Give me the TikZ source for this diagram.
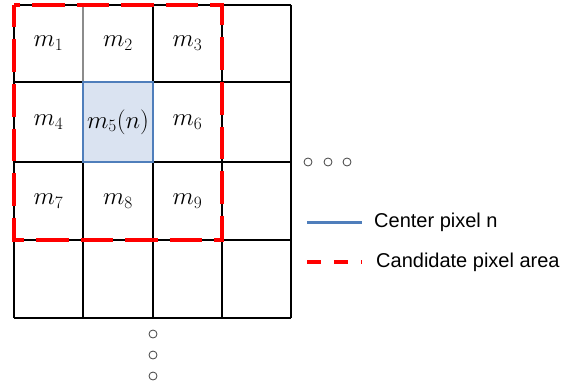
\documentclass[tikz,border=0pt]{standalone}
\usepackage{fontspec}
\newfontfamily\legendfont{Liberation Sans}
\definecolor{centerfill}{HTML}{DAE3F1}
\definecolor{centerline}{HTML}{4F7EBB}
\definecolor{areared}{HTML}{FF0000}
\begin{document}
\begin{tikzpicture}[x=1pt,y=-1pt,
  gridline/.style={draw=black,line width=1.8pt},
  cell/.style={minimum width=69pt,minimum height=78pt,inner sep=0pt,outer sep=0pt},
  centerborder/.style={draw=centerline,line width=2.4pt,fill=centerfill},
  areaborder/.style={draw=areared,line width=4pt,dash pattern=on 32.5pt off 12pt,dash phase=10pt},
  lbl/.style={font=\fontsize{24}{28}\selectfont},
  dot/.style={draw=black!75,line width=0.8pt,circle,minimum size=8pt,inner sep=0pt},
  legtext/.style={font=\legendfont\fontsize{20}{24}\selectfont,anchor=west,inner sep=0pt}]
\useasboundingbox (0,0) rectangle (569,385);
% column and row boundaries
\def\xa{14}\def\xb{83}\def\xc{153}\def\xd{222}\def\xe{291}
\def\ya{5}\def\yb{82}\def\yc{162}\def\yd{240}\def\ye{318}
% cell anchors
\node[cell] (c11) at ({(\xa+\xb)/2},{(\ya+\yb)/2}) {};
\node[cell] (c12) at ({(\xb+\xc)/2},{(\ya+\yb)/2}) {};
\node[cell] (c13) at ({(\xc+\xd)/2},{(\ya+\yb)/2}) {};
\node[cell] (c21) at ({(\xa+\xb)/2},{(\yb+\yc)/2}) {};
\node[cell] (c22) at ({(\xb+\xc)/2},{(\yb+\yc)/2}) {};
\node[cell] (c23) at ({(\xc+\xd)/2},{(\yb+\yc)/2}) {};
\node[cell] (c31) at ({(\xa+\xb)/2},{(\yc+\yd)/2}) {};
\node[cell] (c32) at ({(\xb+\xc)/2},{(\yc+\yd)/2}) {};
\node[cell] (c33) at ({(\xc+\xd)/2},{(\yc+\yd)/2}) {};
% grid lines
\foreach \x in {\xa,\xc,\xd,\xe}{\draw[gridline] (\x,\ya) -- (\x,\ye);}
\draw[gridline] (\xb,\yb) -- (\xb,\ye);
\draw[draw=black!45,line width=1.9pt] (\xb,\ya) -- (\xb,\yb);
\foreach \y in {\ya,\yb,\yc,\yd,\ye}{\draw[gridline] (\xa,\y) -- (\xe,\y);}
% centre pixel
\draw[centerborder] (\xb,\yb) rectangle (\xc,\yc);
% labels of the 3x3 neighbourhood
\node[lbl] at (c11) {$m_1$};
\node[lbl] at (c12) {$m_2$};
\node[lbl] at (c13) {$m_3$};
\node[lbl] at (c21) {$m_4$};
\node[lbl] at (c22) {$m_5(n)$};
\node[lbl] at (c23) {$m_6$};
\node[lbl] at (c31) {$m_7$};
\node[lbl] at (c32) {$m_8$};
\node[lbl] at (c33) {$m_9$};
% candidate area
\draw[areaborder] (\xa,\ya) rectangle (\xd,\yd);
% continuation marks
\node[dot] (d1) at (308,162) {};
\node[dot] (d2) at (328,162) {};
\node[dot] (d3) at (347,162) {};
\node[dot] (v1) at (\xc,334) {};
\node[dot] (v2) at (\xc,355) {};
\node[dot] (v3) at (\xc,376) {};
% legend
\coordinate (b1) at (307,222);
\coordinate (b2) at (362,222);
\coordinate (r1) at (307,262);
\coordinate (r2) at (362,262);
\draw[draw=centerline,line width=3pt] (b1) -- (b2);
\draw[draw=areared,line width=4pt,dash pattern=on 14pt off 13pt] (r1) -- (r2);
\node[legtext] (lt1) at (374,222) {Center pixel n};
\node[legtext] (lt2) at (376,262) {Candidate pixel area};
\end{tikzpicture}
\end{document}
